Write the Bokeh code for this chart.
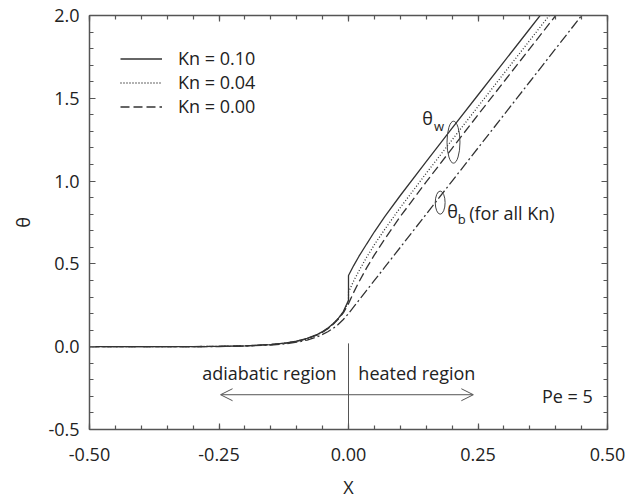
from bokeh.plotting import figure
from bokeh.models import (LinearAxis, FixedTicker, Legend, LegendItem, Label, Arrow,
                          OpenHead, Range1d, NumeralTickFormatter)
from bokeh.embed import file_html
from bokeh.resources import INLINE

# ---------------- data ----------------
x_adiabatic = [-0.5, -0.4, -0.3, -0.25, -0.2, -0.15, -0.12, -0.1, -0.08, -0.06, -0.05,
               -0.04, -0.03, -0.02, -0.01, 0.0]
x_heated = [0.0, 0.01, 0.02, 0.035, 0.05, 0.07, 0.1, 0.15, 0.2, 0.25, 0.3, 0.35, 0.4,
            0.45, 0.5]

# wall temperature, Kn = 0.10
theta_w_kn010_adiabatic = [0.0, 0.0002, 0.0008, 0.002, 0.005, 0.013, 0.023, 0.034, 0.050,
                           0.074, 0.091, 0.112, 0.138, 0.170, 0.212, 0.28]
theta_w_kn010_heated = [0.43, 0.49, 0.545, 0.62, 0.694, 0.785, 0.913, 1.118, 1.32, 1.52,
                        1.72, 1.92, 2.12, 2.32, 2.52]
# wall temperature, Kn = 0.04
theta_w_kn004_adiabatic = [0.0, 0.0002, 0.0008, 0.002, 0.005, 0.013, 0.022, 0.033, 0.049,
                           0.072, 0.089, 0.110, 0.136, 0.168, 0.208, 0.27]
theta_w_kn004_heated = [0.33, 0.397, 0.457, 0.54, 0.616, 0.709, 0.84, 1.047, 1.249, 1.45,
                        1.65, 1.85, 2.05, 2.25, 2.45]
# wall temperature, Kn = 0.00
theta_w_kn000_adiabatic = [0.0, 0.0002, 0.0008, 0.002, 0.005, 0.013, 0.022, 0.033, 0.048,
                           0.071, 0.088, 0.108, 0.134, 0.165, 0.204, 0.26]
theta_w_kn000_heated = [0.26, 0.328, 0.39, 0.476, 0.554, 0.65, 0.786, 0.995, 1.198, 1.40,
                        1.60, 1.80, 2.00, 2.20, 2.40]
# bulk temperature (for all Kn)
theta_b_adiabatic = [0.0, 0.0001, 0.0005, 0.0013, 0.0037, 0.010, 0.018, 0.027, 0.040,
                     0.060, 0.074, 0.090, 0.110, 0.134, 0.164, 0.20]
theta_b_heated = [0.20, 0.24, 0.28, 0.34, 0.40, 0.48, 0.60, 0.80, 1.00, 1.20, 1.40, 1.60,
                  1.80, 2.00, 2.20]

legend_labels = ["Kn = 0.10", "Kn = 0.04", "Kn = 0.00"]
x_ticks_major = [-0.5, -0.25, 0.0, 0.25, 0.5]
x_ticks_minor = [-0.5, -0.45, -0.4, -0.35, -0.3, -0.25, -0.2, -0.15, -0.1, -0.05, 0.0,
                 0.05, 0.1, 0.15, 0.2, 0.25, 0.3, 0.35, 0.4, 0.45, 0.5]
y_ticks_major = [-0.5, 0.0, 0.5, 1.0, 1.5, 2.0]
y_ticks_minor = [-0.5, -0.4, -0.3, -0.2, -0.1, 0.0, 0.1, 0.2, 0.3, 0.4, 0.5, 0.6, 0.7, 0.8,
                 0.9, 1.0, 1.1, 1.2, 1.3, 1.4, 1.5, 1.6, 1.7, 1.8, 1.9, 2.0]

# annotation ellipses (centre x, centre y, width, height)
ellipse_x = [0.2027, 0.177]
ellipse_y = [1.235, 0.87]
ellipse_w = [0.025, 0.019]
ellipse_h = [0.253, 0.14]

# ---------------- figure ----------------
FONT = "Open Sans"
TXT = "#222222"
AX = "#555555"
LC = "#333333"

p = figure(width=634, height=501,
           x_range=Range1d(-0.5, 0.5), y_range=Range1d(-0.5, 2.0),
           output_backend="svg", toolbar_location=None,
           min_border_left=89, min_border_right=27, min_border_top=15, min_border_bottom=72)
p.outline_line_color = None
p.xgrid.grid_line_color = None
p.ygrid.grid_line_color = None
p.background_fill_color = "white"
p.border_fill_color = "white"

xt = FixedTicker(ticks=x_ticks_major, minor_ticks=x_ticks_minor)
yt = FixedTicker(ticks=y_ticks_major, minor_ticks=y_ticks_minor)


def style_axis(ax, ticker, fmt, ticks, labels):
    ax.ticker = ticker
    ax.formatter = NumeralTickFormatter(format=fmt)
    ax.axis_line_color = AX
    ax.axis_line_width = 1.5
    ax.major_tick_in = 6
    ax.major_tick_out = 0
    ax.minor_tick_in = 4
    ax.minor_tick_out = 0
    ax.major_tick_line_color = AX
    ax.minor_tick_line_color = AX
    ax.major_tick_line_width = 1.2
    ax.minor_tick_line_width = 1.2
    ax.major_label_text_font = FONT
    ax.major_label_text_color = TXT
    ax.major_label_text_font_size = "18px"
    if not labels:
        ax.major_label_overrides = {t: "" for t in ticks}
        ax.major_label_standoff = 0


xa = p.xaxis[0]
ya = p.yaxis[0]
style_axis(xa, xt, "0.00", x_ticks_major, True)
style_axis(ya, yt, "0.0", y_ticks_major, True)
xa.major_label_standoff = 18
ya.major_label_standoff = 10
xa.axis_label = "X"
ya.axis_label = "θ"
for ax in (xa, ya):
    ax.axis_label_text_font = FONT
    ax.axis_label_text_font_size = "18px"
    ax.axis_label_text_font_style = "normal"
    ax.axis_label_text_color = TXT
xa.axis_label_standoff = 11
ya.axis_label_standoff = 10

top_ax = LinearAxis()
style_axis(top_ax, xt, "0.00", x_ticks_major, False)
p.add_layout(top_ax, "above")
right_ax = LinearAxis()
style_axis(right_ax, yt, "0.0", y_ticks_major, False)
p.add_layout(right_ax, "right")

# curves
r1 = p.line(x_adiabatic + x_heated, theta_w_kn010_adiabatic + theta_w_kn010_heated,
            line_color=LC, line_width=1.3)
r2 = p.line(x_adiabatic + x_heated, theta_w_kn004_adiabatic + theta_w_kn004_heated,
            line_color=LC, line_width=1.3, line_dash="1 2")
r3 = p.line(x_adiabatic + x_heated, theta_w_kn000_adiabatic + theta_w_kn000_heated,
            line_color=LC, line_width=1.3, line_dash="9 4")
r4 = p.line(x_adiabatic + x_heated, theta_b_adiabatic + theta_b_heated,
            line_color=LC, line_width=1.3, line_dash="10 3 2 3")

legend = Legend(items=[LegendItem(label=legend_labels[0], renderers=[r1]),
                       LegendItem(label=legend_labels[1], renderers=[r2]),
                       LegendItem(label=legend_labels[2], renderers=[r3])],
                location="top_left", margin=31, padding=0, spacing=0,
                label_height=21, glyph_height=21, glyph_width=42, label_standoff=16,
                label_text_line_height=0.7,
                border_line_color=None, background_fill_alpha=0,
                label_text_font=FONT, label_text_font_size="18px", label_text_color=TXT)
p.add_layout(legend)

# ellipses
p.ellipse(x=ellipse_x, y=ellipse_y, width=ellipse_w, height=ellipse_h,
          fill_color=None, line_color="#444444", line_width=1)

# text annotations
def lab(x, y, text, size="18px", align="center"):
    p.add_layout(Label(x=x, y=y, text=text, text_font=FONT, text_font_size=size,
                       text_color=TXT, text_align=align, text_baseline="middle"))

lab(0.1527, 1.383, "θ")
lab(0.175, 1.33, "w", size="13px")
lab(0.201, 0.819, "θ")
lab(0.2185, 0.771, "b", size="13px")
lab(0.233, 0.807, "(for all Kn)", align="left")
lab(-0.1527, -0.157, "adiabatic region")
lab(0.132, -0.157, "heated region")
lab(0.4716, -0.295, "Pe = 5", align="right")

# region divider and double arrow
p.segment(x0=[0.0], y0=[0.02], x1=[0.0], y1=[-0.5], line_color=AX, line_width=1)
p.add_layout(Arrow(start=OpenHead(size=12, line_color=AX, line_width=1),
                   end=OpenHead(size=12, line_color=AX, line_width=1),
                   x_start=-0.247, y_start=-0.29, x_end=0.241, y_end=-0.29,
                   line_color=AX, line_width=1))

open("out.html", "w").write(file_html(p, INLINE))
